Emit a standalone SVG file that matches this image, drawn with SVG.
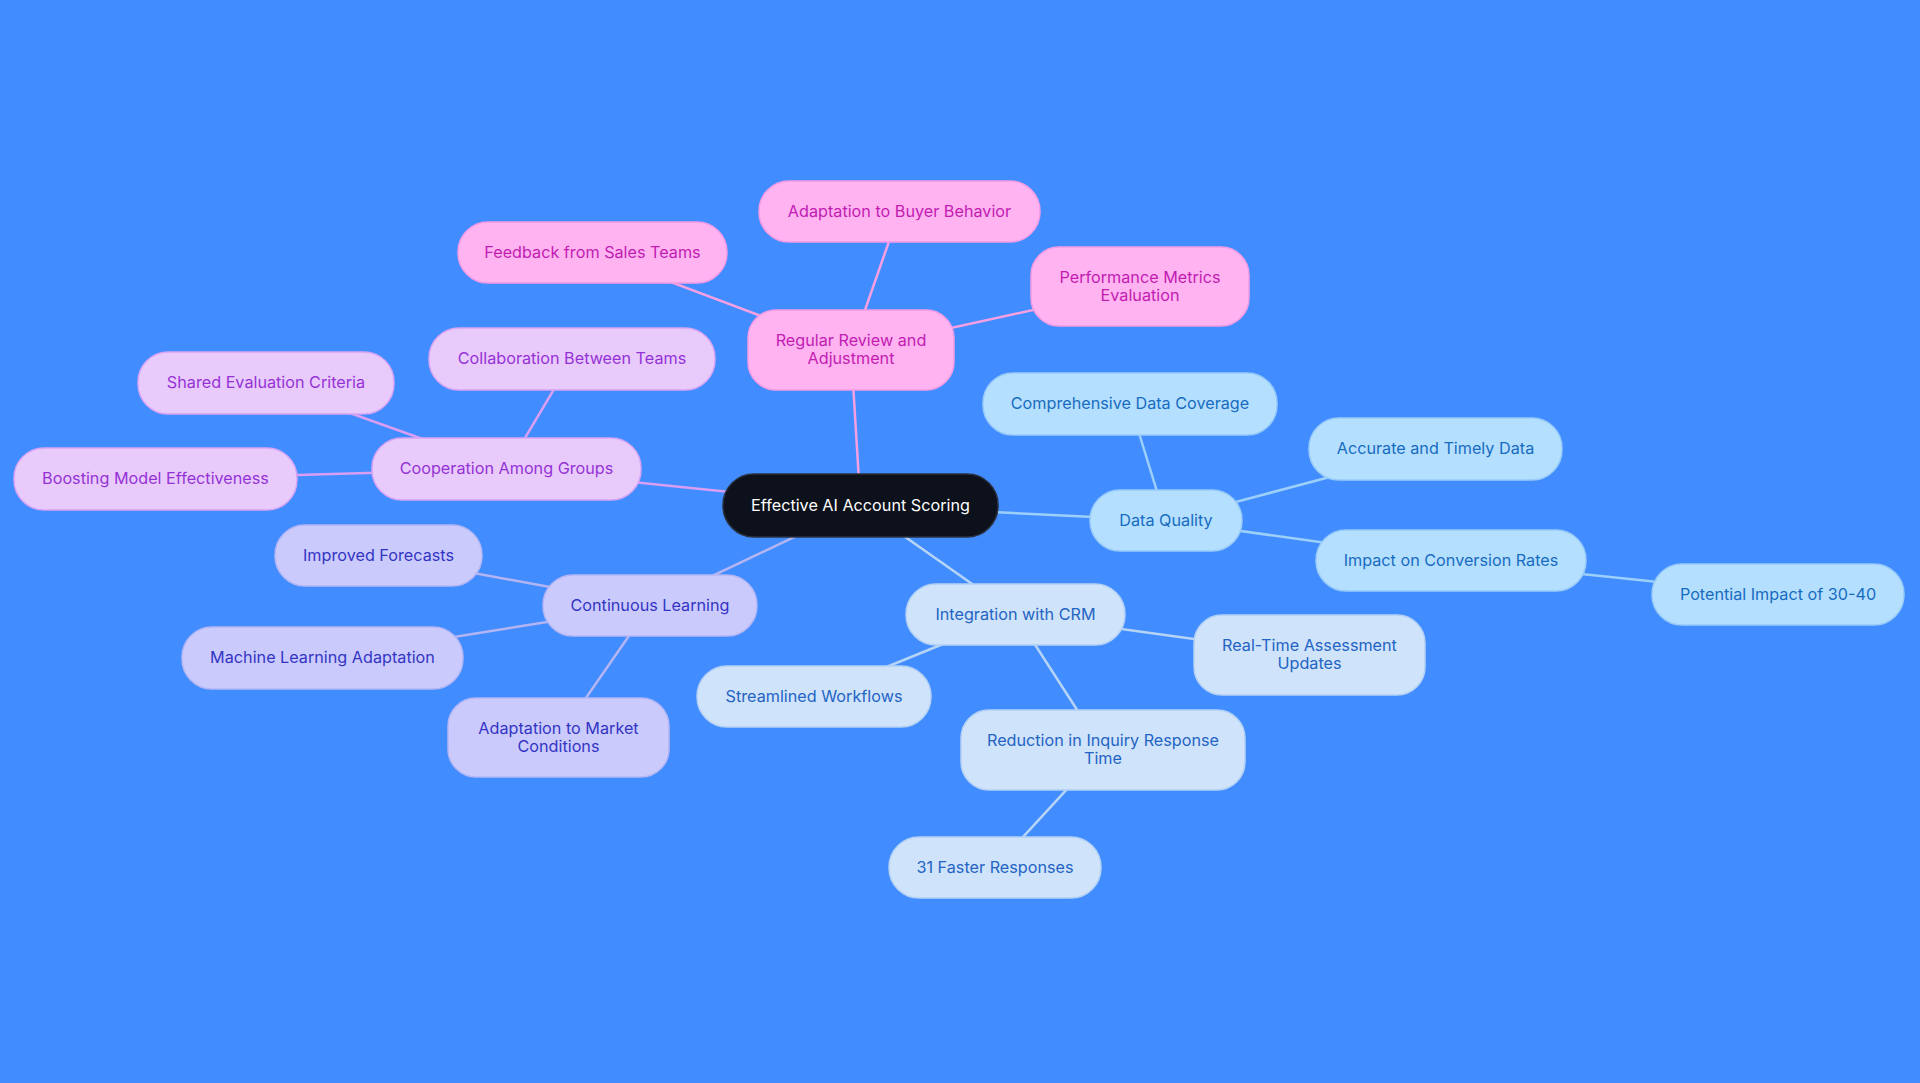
<svg xmlns="http://www.w3.org/2000/svg" width="1920" height="1083" viewBox="0 0 1920 1083">
<style>
text{font-family:Inter,"Noto Sans","Liberation Sans",sans-serif;font-size:16.2px;text-anchor:middle;dominant-baseline:central}
.e{fill:none;stroke-width:2.5}
.pk rect{fill:#FFB3F0;stroke:#F39BE4;stroke-width:1.5}
.pk text{fill:#C21CB3}
.lv rect{fill:#E8CBFB;stroke:#D7A4F4;stroke-width:1.5}
.lv text{fill:#9532D6}
.pw rect{fill:#CACBFC;stroke:#B4B6F4;stroke-width:1.5}
.pw text{fill:#3434C4}
.lb rect{fill:#B5DFFF;stroke:#98CBF7;stroke-width:1.5}
.lb text{fill:#176CBF}
.pb rect{fill:#CFE3FA;stroke:#B3D1F4;stroke-width:1.5}
.pb text{fill:#2464C4}
</style>
<rect width="1920" height="1083" fill="#418CFF"/>
<g id="connectors">
<g stroke="#F5A0E2">
<line class="e" x1="860.5" y1="505.5" x2="851" y2="350"/>
<line class="e" x1="851" y1="350" x2="592.5" y2="252.5"/>
<line class="e" x1="851" y1="350" x2="899.5" y2="211.5"/>
<line class="e" x1="851" y1="350" x2="1140" y2="286.5"/>
</g>
<g stroke="#D89EF2">
<line class="e" x1="860.5" y1="505.5" x2="506.5" y2="469"/>
<line class="e" x1="506.5" y1="469" x2="572" y2="359"/>
<line class="e" x1="506.5" y1="469" x2="266" y2="383"/>
<line class="e" x1="506.5" y1="469" x2="155.5" y2="479"/>
</g>
<g stroke="#B3B5F3">
<line class="e" x1="860.5" y1="505.5" x2="650" y2="605.5"/>
<line class="e" x1="650" y1="605.5" x2="378.5" y2="555.5"/>
<line class="e" x1="650" y1="605.5" x2="322.5" y2="658"/>
<line class="e" x1="650" y1="605.5" x2="558.5" y2="737.5"/>
</g>
<g stroke="#9CD0FA">
<line class="e" x1="860.5" y1="505.5" x2="1166" y2="520.5"/>
<line class="e" x1="1166" y1="520.5" x2="1130" y2="404"/>
<line class="e" x1="1166" y1="520.5" x2="1435.5" y2="449"/>
<line class="e" x1="1166" y1="520.5" x2="1451" y2="560.5"/>
<line class="e" x1="1451" y1="560.5" x2="1778" y2="594.5"/>
</g>
<g stroke="#B6D4F6">
<line class="e" x1="860.5" y1="505.5" x2="1015.5" y2="614.5"/>
<line class="e" x1="1015.5" y1="614.5" x2="1309.5" y2="655"/>
<line class="e" x1="1015.5" y1="614.5" x2="1103" y2="750"/>
<line class="e" x1="1015.5" y1="614.5" x2="814" y2="696.5"/>
<line class="e" x1="1103" y1="750" x2="995" y2="867.5"/>
</g>
</g>
<g id="root"><rect x="723" y="474" width="275" height="63" rx="31" fill="#0C111B" stroke="#2B3140" stroke-width="1.5"/><text x="860.5" y="504.5" fill="#FFFFFF">Effective AI Account Scoring</text></g>
<g id="n-review" class="pk"><rect x="748" y="310" width="206" height="80" rx="28"/><text x="851" y="340">Regular Review and</text><text x="851" y="358">Adjustment</text></g>
<g id="n-buyer" class="pk"><rect x="759" y="181" width="281" height="61" rx="30"/><text x="899.5" y="210.5">Adaptation to Buyer Behavior</text></g>
<g id="n-perf" class="pk"><rect x="1031" y="247" width="218" height="79" rx="28"/><text x="1140" y="276.5">Performance Metrics</text><text x="1140" y="294.5">Evaluation</text></g>
<g id="n-feedback" class="pk"><rect x="458" y="222" width="269" height="61" rx="30"/><text x="592.5" y="251.5">Feedback from Sales Teams</text></g>
<g id="n-coop" class="lv"><rect x="372" y="438" width="269" height="62" rx="30"/><text x="506.5" y="468">Cooperation Among Groups</text></g>
<g id="n-collab" class="lv"><rect x="429" y="328" width="286" height="62" rx="30"/><text x="572" y="358">Collaboration Between Teams</text></g>
<g id="n-shared" class="lv"><rect x="138" y="352" width="256" height="62" rx="30"/><text x="266" y="382">Shared Evaluation Criteria</text></g>
<g id="n-boost" class="lv"><rect x="14" y="448" width="283" height="62" rx="30"/><text x="155.5" y="478">Boosting Model Effectiveness</text></g>
<g id="n-cont" class="pw"><rect x="543" y="575" width="214" height="61" rx="30"/><text x="650" y="604.5">Continuous Learning</text></g>
<g id="n-improved" class="pw"><rect x="275" y="525" width="207" height="61" rx="30"/><text x="378.5" y="554.5">Improved Forecasts</text></g>
<g id="n-ml" class="pw"><rect x="182" y="627" width="281" height="62" rx="30"/><text x="322.5" y="657">Machine Learning Adaptation</text></g>
<g id="n-market" class="pw"><rect x="448" y="698" width="221" height="79" rx="28"/><text x="558.5" y="727.5">Adaptation to Market</text><text x="558.5" y="745.5">Conditions</text></g>
<g id="n-dq" class="lb"><rect x="1090" y="490" width="152" height="61" rx="30"/><text x="1166" y="519.5">Data Quality</text></g>
<g id="n-comp" class="lb"><rect x="983" y="373" width="294" height="62" rx="30"/><text x="1130" y="403">Comprehensive Data Coverage</text></g>
<g id="n-accurate" class="lb"><rect x="1309" y="418" width="253" height="62" rx="30"/><text x="1435.5" y="448">Accurate and Timely Data</text></g>
<g id="n-impact" class="lb"><rect x="1316" y="530" width="270" height="61" rx="30"/><text x="1451" y="559.5">Impact on Conversion Rates</text></g>
<g id="n-potential" class="lb"><rect x="1652" y="564" width="252" height="61" rx="30"/><text x="1778" y="593.5">Potential Impact of 30-40</text></g>
<g id="n-crm" class="pb"><rect x="906" y="584" width="219" height="61" rx="30"/><text x="1015.5" y="613.5">Integration with CRM</text></g>
<g id="n-realtime" class="pb"><rect x="1194" y="615" width="231" height="80" rx="28"/><text x="1309.5" y="645">Real-Time Assessment</text><text x="1309.5" y="663">Updates</text></g>
<g id="n-reduction" class="pb"><rect x="961" y="710" width="284" height="80" rx="28"/><text x="1103" y="740">Reduction in Inquiry Response</text><text x="1103" y="758">Time</text></g>
<g id="n-faster" class="pb"><rect x="889" y="837" width="212" height="61" rx="30"/><text x="995" y="866.5">31 Faster Responses</text></g>
<g id="n-stream" class="pb"><rect x="697" y="666" width="234" height="61" rx="30"/><text x="814" y="695.5">Streamlined Workflows</text></g>
</svg>
